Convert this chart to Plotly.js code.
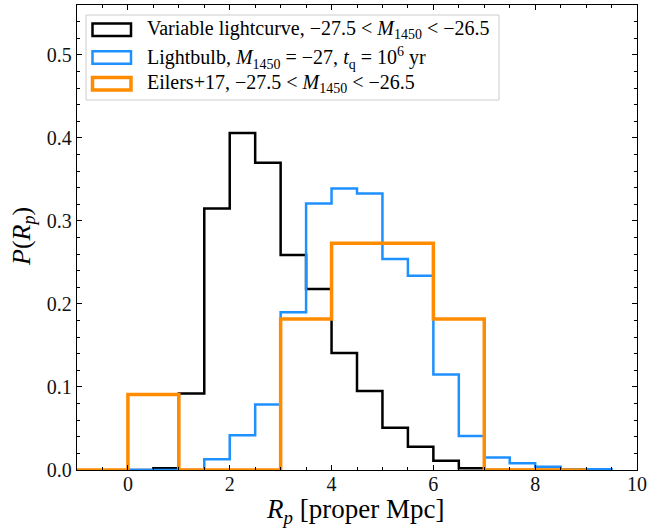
<!DOCTYPE html>
<html>
<head>
<meta charset="utf-8">
<script src="https://cdn.plot.ly/plotly-3.0.1.min.js"></script>
<style>html,body{margin:0;padding:0;background:#fff;}#plot{width:648px;height:528px;}</style>
</head>
<body>
<div id="plot"></div>
<script>
// Bin edges (proper Mpc)
const varEdges = [0,0.5,1,1.5,2,2.5,3,3.5,4,4.5,5,5.5,6,6.5,7,7.5,8,8.5,9,9.5];
const bulbEdges = [0,0.5,1,1.5,2,2.5,3,3.5,4,4.5,5,5.5,6,6.5,7,7.5,8,8.5,9,9.5];
const eilersEdges = [-1,0,1,2,3,4,5,6,7,8,9];
// Probability densities per bin
const varVals = [0,0.002,0.092,0.315,0.406,0.370,0.259,0.218,0.141,0.095,0.051,0.028,0.011,0.002,0,0,0,0,0];
const bulbVals = [0,0,0,0.013,0.042,0.079,0.190,0.321,0.339,0.333,0.254,0.234,0.115,0.041,0.015,0.008,0.004,0.001,0.001];
const eilersVals = [0,0.091,0,0,0.182,0.273,0.273,0.182,0,0];
// Axis ticks
const xTickVals = [0,2,4,6,8,10];
const xTickText = ['0','2','4','6','8','10'];
// Legend labels
const labels = [
  'Variable lightcurve, \u221227.5 &lt; <i>M</i><sub>1450</sub> &lt; \u221226.5',
  'Lightbulb, <i>M</i><sub>1450</sub> = \u221227, <i>t</i><sub>q</sub> = 10<sup>6</sup> yr',
  'Eilers+17, \u221227.5 &lt; <i>M</i><sub>1450</sub> &lt; \u221226.5'
];
const colors = ['#000000','#1E90FF','#FF8C00'];
const widths = [2.5,2.5,3.5];

function stepXY(edges, vals){
  const x=[edges[0]], y=[0];
  for(let i=0;i<vals.length;i++){
    x.push(edges[i]); y.push(vals[i]);
    x.push(edges[i+1]); y.push(vals[i]);
  }
  x.push(edges[edges.length-1]); y.push(0);
  return {x,y};
}
const sets=[[varEdges,varVals],[bulbEdges,bulbVals],[eilersEdges,eilersVals]];
const traces = sets.map((s,i)=>{
  const p=stepXY(s[0],s[1]);
  return {type:'scatter',mode:'lines',x:p.x,y:p.y,line:{color:colors[i],width:widths[i]},showlegend:false,hoverinfo:'skip'};
});

const W=648,H=528,ml=77,mr=11,mt=5,mb=58;
const pw=W-ml-mr, ph=H-mt-mb;
const px=(v)=>(v-ml)/pw, py=(v)=>1-(v-mt)/ph;

const shapes=[{type:'rect',xref:'paper',yref:'paper',x0:px(86),x1:px(499),y0:py(100),y1:py(15),
  line:{color:'#cccccc',width:1},fillcolor:'rgba(255,255,255,0.8)',layer:'above'}];
const rowY=[29.7,57.5,83.7];
const annotations=[];
rowY.forEach((ry,i)=>{
  shapes.push({type:'rect',xref:'paper',yref:'paper',x0:px(92.5),x1:px(131),y0:py(ry+6.2),y1:py(ry-6.2),
    line:{color:colors[i],width:widths[i]},fillcolor:'rgba(0,0,0,0)',layer:'above'});
  annotations.push({xref:'paper',yref:'paper',x:px(145),y:py(ry),xanchor:'left',yanchor:'middle',
    text:labels[i],showarrow:false,font:{family:'Liberation Serif',size:20,color:'#000'}});
});
annotations.push({xref:'paper',yref:'paper',x:px(355),y:py(511),xanchor:'center',yanchor:'middle',
  text:'<i>R<sub>p</sub></i> [proper Mpc]',showarrow:false,font:{family:'Liberation Serif',size:27,color:'#000'}});
annotations.push({xref:'paper',yref:'paper',x:px(23),y:py(237),xanchor:'center',yanchor:'middle',textangle:-90,
  text:'<i>P</i>(<i>R<sub>p</sub></i>)',showarrow:false,font:{family:'Liberation Serif',size:26,color:'#000'}});

const axisCommon={showgrid:false,zeroline:false,showline:true,linecolor:'#000',linewidth:1.2,mirror:'allticks',
  ticks:'inside',ticklen:5,tickwidth:1,tickcolor:'#000',tickfont:{family:'Liberation Serif',size:20,color:'#111'}};
const layout={
  width:W,height:H,margin:{l:ml,r:mr,t:mt,b:mb},paper_bgcolor:'#fff',plot_bgcolor:'#fff',showlegend:false,
  xaxis:Object.assign({},axisCommon,{range:[-1,10],tickmode:'array',tickvals:xTickVals,ticktext:xTickText,ticklabelstandoff:-4,
    minor:{dtick:0.5,tick0:0,ticks:'inside',ticklen:3,tickcolor:'#000',tickwidth:1}}),
  yaxis:Object.assign({},axisCommon,{range:[0,0.56],dtick:0.1,tick0:0,tickformat:'.1f',
    minor:{dtick:0.02,tick0:0,ticks:'inside',ticklen:3,tickcolor:'#000',tickwidth:1}}),
  shapes:shapes,annotations:annotations
};
Plotly.newPlot('plot',traces,layout,{staticPlot:true,displayModeBar:false});
</script>
</body>
</html>
